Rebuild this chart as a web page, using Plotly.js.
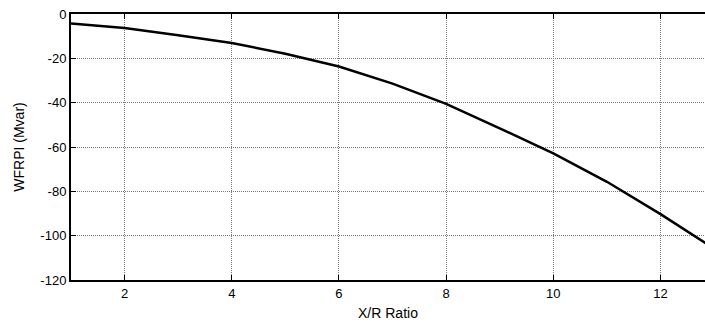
<!DOCTYPE html>
<html>
<head>
<meta charset="utf-8">
<script src="https://cdn.plot.ly/plotly-3.0.1.min.js"></script>
<style>
  html, body { margin: 0; padding: 0; background: #fff; }
  #chart { width: 705px; height: 323px; }
</style>
</head>
<body>
<div id="chart"></div>
<script>
// X/R ratio sweep and the resulting WFRPI (reactive power, Mvar)
const xrRatio = [1, 2, 3, 4, 5, 6, 7, 8, 9, 10, 11, 12, 13];
const wfrpi   = [-4.3, -6.3, -9.6, -13.1, -17.9, -23.7, -31.4, -40.5, -51.6, -62.9, -75.7, -90.3, -105.8];

const xTicks = [2, 4, 6, 8, 10, 12];
const yTicks = [0, -20, -40, -60, -80, -100, -120];

const font = { family: 'Liberation Sans, Arial, sans-serif', color: '#000' };

const trace = {
  x: xrRatio,
  y: wfrpi,
  type: 'scatter',
  mode: 'lines',
  line: { color: '#000', width: 2.5 },
  hoverinfo: 'skip'
};

const layout = {
  width: 705,
  height: 323,
  margin: { l: 71, r: 0, t: 14, b: 43 },
  paper_bgcolor: '#fff',
  plot_bgcolor: '#fff',
  showlegend: false,
  font: Object.assign({ size: 13 }, font),
  xaxis: {
    range: [1, 12.83],
    tickvals: xTicks,
    ticktext: xTicks.map(String),
    ticks: 'inside',
    ticklen: 5,
    tickwidth: 1,
    tickcolor: '#000',
    showline: true,
    linecolor: '#000',
    linewidth: 2,
    mirror: 'ticks',
    showgrid: true,
    gridcolor: '#7a7a7a',
    griddash: '1px,1px',
    gridwidth: 1,
    zeroline: false,
    tickfont: Object.assign({ size: 13 }, font),
    title: { text: 'X/R Ratio', font: Object.assign({ size: 14 }, font), standoff: 9 }
  },
  yaxis: {
    range: [-120, 0],
    tickvals: yTicks,
    ticktext: yTicks.map(String),
    ticks: 'inside',
    ticklen: 5,
    tickwidth: 1,
    tickcolor: '#000',
    showline: true,
    linecolor: '#000',
    linewidth: 2,
    showgrid: true,
    gridcolor: '#7a7a7a',
    griddash: '1px,1px',
    gridwidth: 1,
    zeroline: false,
    tickfont: Object.assign({ size: 13 }, font),
    title: { text: 'WFRPI (Mvar)', font: Object.assign({ size: 14 }, font), standoff: 12 }
  }
};

Plotly.newPlot('chart', [trace], layout, { displayModeBar: false, staticPlot: true });
</script>
</body>
</html>
